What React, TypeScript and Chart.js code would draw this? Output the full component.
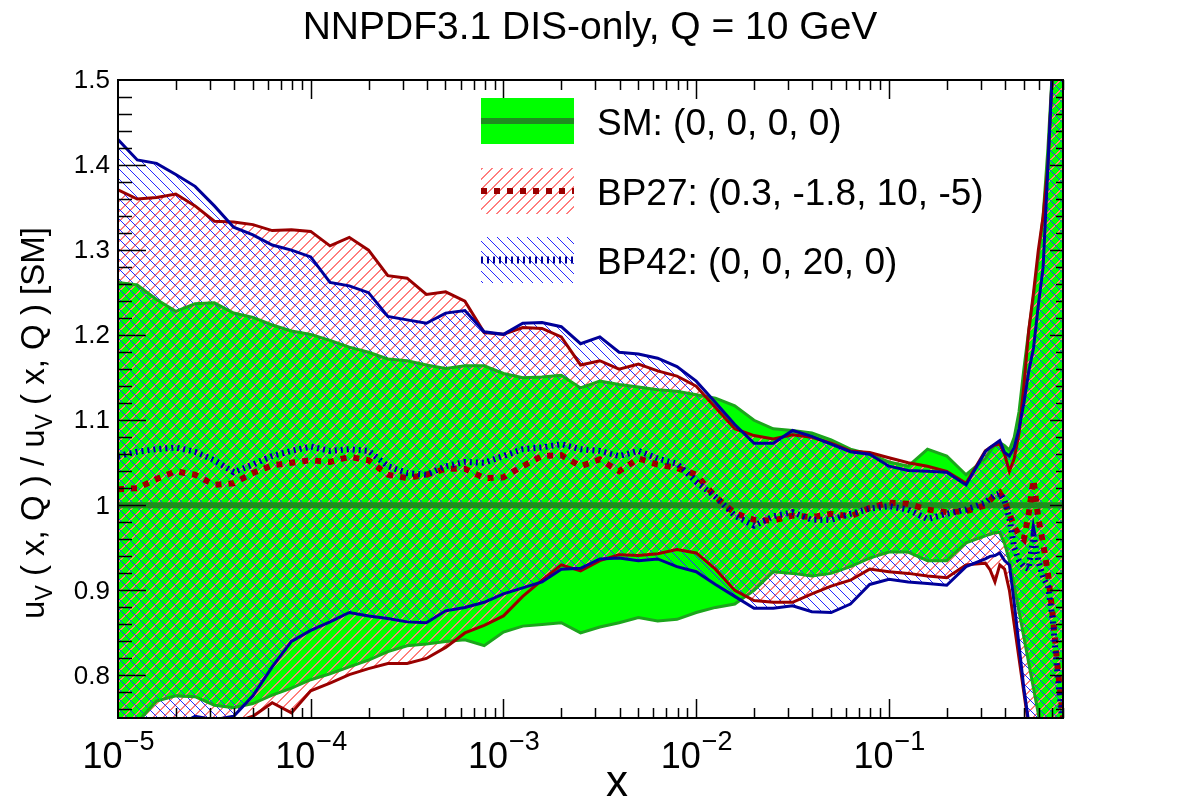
import React, { useEffect, useRef } from 'react';
import { Chart, registerables } from 'chart.js';

Chart.register(...registerables);

const FONT = '"Liberation Sans", Arial, Helvetica, sans-serif';

const chartTitle = 'NNPDF3.1 DIS-only, Q = 10 GeV';
const legendLabels = ['SM: (0, 0, 0, 0)', 'BP27: (0.3, -1.8, 10, -5)', 'BP42: (0, 0, 20, 0)'];

// sample positions in log10(x)
const logX = [
  -5.0, -4.9, -4.8, -4.7, -4.6, -4.5, -4.4, -4.3, -4.2, -4.1,
  -4.0, -3.9, -3.8, -3.7, -3.6, -3.5, -3.4, -3.3, -3.2, -3.1,
  -3.0, -2.9, -2.8, -2.7, -2.6, -2.5, -2.4, -2.3, -2.2, -2.1,
  -2.0, -1.9, -1.8, -1.7, -1.6, -1.5, -1.4, -1.3, -1.2, -1.1,
  -1.0, -0.9, -0.8, -0.7, -0.6, -0.5, -0.475, -0.45, -0.425, -0.4,
  -0.375, -0.35, -0.325, -0.3, -0.275, -0.25, -0.225, -0.2, -0.175, -0.15,
  -0.125, -0.097,
];

const smUpper = [
  1.262, 1.259, 1.242, 1.228, 1.237, 1.238, 1.226, 1.221, 1.212, 1.205,
  1.201, 1.194, 1.186, 1.180, 1.172, 1.170, 1.165, 1.161, 1.164, 1.164,
  1.155, 1.150, 1.151, 1.153, 1.138, 1.146, 1.142, 1.139, 1.136, 1.134,
  1.130, 1.126, 1.117, 1.100, 1.090, 1.088, 1.085, 1.077, 1.066, 1.060,
  1.051, 1.046, 1.066, 1.058, 1.036, 1.055, 1.064, 1.071, 1.074, 1.070,
  1.065, 1.080, 1.110, 1.160, 1.205, 1.245, 1.290, 1.340, 1.420, 1.520,
  1.620, 1.700,
];
const smLower = [
  0.740, 0.745, 0.770, 0.776, 0.775, 0.765, 0.762, 0.767, 0.777, 0.785,
  0.795, 0.802, 0.810, 0.818, 0.828, 0.835, 0.837, 0.840, 0.842, 0.835,
  0.851, 0.858, 0.860, 0.862, 0.850, 0.857, 0.862, 0.868, 0.864, 0.866,
  0.874, 0.880, 0.884, 0.900, 0.922, 0.920, 0.917, 0.920, 0.928, 0.938,
  0.945, 0.945, 0.935, 0.935, 0.956, 0.964, 0.966, 0.968, 0.968, 0.955,
  0.935, 0.905, 0.875, 0.845, 0.815, 0.785, 0.755, 0.720, 0.700, 0.680,
  0.660, 0.640,
];
const smCentralX = [1e-5, 0.8];
const smCentralY = [1.0, 1.0];

const bp27Upper = [
  1.371, 1.360, 1.362, 1.366, 1.352, 1.334, 1.333, 1.330, 1.323, 1.324,
  1.322, 1.305, 1.315, 1.300, 1.270, 1.267, 1.248, 1.251, 1.240, 1.203,
  1.201, 1.209, 1.208, 1.198, 1.165, 1.170, 1.160, 1.166, 1.158, 1.152,
  1.140, 1.115, 1.090, 1.082, 1.078, 1.083, 1.080, 1.073, 1.064, 1.062,
  1.056, 1.050, 1.046, 1.040, 1.026, 1.064, 1.068, 1.071, 1.072, 1.060,
  1.040, 1.055, 1.085, 1.140, 1.205, 1.250, 1.300, 1.340, 1.400, 1.520,
  1.620, 1.700,
];
const bp27Lower = [
  0.700, 0.700, 0.710, 0.720, 0.730, 0.740, 0.745, 0.752, 0.768, 0.756,
  0.782, 0.791, 0.801, 0.808, 0.814, 0.814, 0.820, 0.833, 0.850, 0.859,
  0.870, 0.893, 0.912, 0.930, 0.923, 0.935, 0.942, 0.941, 0.943, 0.948,
  0.944, 0.925, 0.900, 0.888, 0.886, 0.886, 0.896, 0.905, 0.912, 0.925,
  0.922, 0.920, 0.917, 0.915, 0.930, 0.932, 0.924, 0.910, 0.930, 0.925,
  0.900, 0.860, 0.820, 0.780, 0.740, 0.700, 0.680, 0.660, 0.640, 0.620,
  0.600, 0.580,
];
const bp27Central = [
  1.019, 1.020, 1.031, 1.040, 1.036, 1.024, 1.026, 1.038, 1.047, 1.050,
  1.053, 1.051, 1.057, 1.053, 1.036, 1.032, 1.036, 1.043, 1.043, 1.032,
  1.033, 1.046, 1.058, 1.059, 1.046, 1.054, 1.040, 1.055, 1.048, 1.044,
  1.036, 1.010, 0.991, 0.983, 0.982, 0.988, 0.986, 0.990, 0.987, 0.997,
  1.003, 1.002, 0.995, 0.992, 0.993, 1.000, 1.006, 1.012, 1.015, 1.005,
  0.990, 0.975, 0.965, 0.960, 0.990, 1.030, 0.985, 0.955, 0.920, 0.870,
  0.810, 0.750,
];

const bp42Upper = [
  1.430, 1.406, 1.402, 1.389, 1.375, 1.352, 1.327, 1.318, 1.306, 1.300,
  1.292, 1.262, 1.258, 1.250, 1.222, 1.218, 1.214, 1.226, 1.229, 1.204,
  1.201, 1.214, 1.215, 1.210, 1.190, 1.198, 1.180, 1.178, 1.173, 1.163,
  1.146, 1.121, 1.095, 1.073, 1.073, 1.088, 1.081, 1.072, 1.063, 1.060,
  1.046, 1.041, 1.040, 1.039, 1.024, 1.063, 1.068, 1.072, 1.076, 1.062,
  1.058, 1.068, 1.090, 1.120, 1.157, 1.185, 1.235, 1.280, 1.400, 1.520,
  1.620, 1.700,
];
const bp42Lower = [
  0.720, 0.720, 0.730, 0.740, 0.752, 0.748, 0.752, 0.776, 0.810, 0.840,
  0.853, 0.863, 0.874, 0.870, 0.867, 0.863, 0.862, 0.876, 0.880, 0.886,
  0.896, 0.903, 0.910, 0.925, 0.926, 0.937, 0.938, 0.935, 0.937, 0.928,
  0.922, 0.907, 0.893, 0.879, 0.879, 0.882, 0.875, 0.874, 0.884, 0.907,
  0.913, 0.910, 0.908, 0.906, 0.928, 0.937, 0.940, 0.941, 0.944, 0.935,
  0.930, 0.885, 0.835, 0.785, 0.745, 0.710, 0.680, 0.660, 0.640, 0.620,
  0.600, 0.580,
];
const bp42Central = [
  1.058, 1.063, 1.066, 1.068, 1.063, 1.053, 1.039, 1.048, 1.058, 1.064,
  1.069, 1.064, 1.066, 1.064, 1.046, 1.038, 1.036, 1.046, 1.051, 1.050,
  1.058, 1.066, 1.068, 1.072, 1.066, 1.064, 1.058, 1.064, 1.055, 1.049,
  1.028, 1.010, 0.988, 0.976, 0.987, 0.992, 0.983, 0.983, 0.990, 0.996,
  0.999, 0.995, 0.984, 0.990, 0.995, 1.003, 1.008, 1.012, 1.014, 1.005,
  0.985, 0.950, 0.935, 0.928, 0.925, 0.965, 0.935, 0.915, 0.905, 0.865,
  0.800, 0.740,
];

const xMin = 1e-5;
const xMax = 0.8;
const yMin = 0.75;
const yMax = 1.5;
const xMajorTicks = [1e-5, 1e-4, 1e-3, 1e-2, 1e-1];
const xMajorExponents = ['\u22125', '\u22124', '\u22123', '\u22122', '\u22121'];
const xMinorMantissas = [2, 3, 4, 5, 6, 7, 8, 9];
const yMajorTicks = [0.8, 0.9, 1.0, 1.1, 1.2, 1.3, 1.4, 1.5];
const yMajorLabels = ['0.8', '0.9', '1', '1.1', '1.2', '1.3', '1.4', '1.5'];

const SM_FILL = '#00ff00';
const SM_EDGE = '#1ca51c';
const SM_LINE = '#1f8c1f';
const RED_LINE = '#990000';
const BLUE_LINE = '#000099';
const RED_HATCH = 'rgb(255,125,125)';
const BLUE_HATCH = 'rgb(40,40,255)';

// thick: number of stacked pixels per column (2 gives a ~1.5px diagonal)
function makeHatch(dir: string, color: string, thick: number): CanvasPattern | string {
  const c = document.createElement('canvas');
  c.width = 10;
  c.height = 10;
  const g = c.getContext('2d');
  if (!g) return color;
  g.clearRect(0, 0, 10, 10);
  g.fillStyle = color;
  for (let i = 0; i < 10; i++) {
    for (let t = 0; t < thick; t++) {
      const yy = dir === '/' ? (9 - i + t) % 10 : (i + t) % 10;
      g.fillRect(i, yy, 1, 1);
    }
  }
  return g.createPattern(c, 'repeat') || color;
}

export default function App() {
  const ref = useRef<HTMLCanvasElement>(null);

  useEffect(() => {
    const canvas = ref.current;
    if (!canvas) return;
    const redHatch = makeHatch('/', RED_HATCH, 2);
    const blueHatch = makeHatch('\\', BLUE_HATCH, 1);
    const pts = (arr: number[]) => logX.map((lx, i) => ({ x: Math.pow(10, lx), y: arr[i] }));

    const decor = {
      id: 'decor',
      afterDraw(chart: any) {
        const ctx = chart.ctx as CanvasRenderingContext2D;
        const { left, right, top, bottom } = chart.chartArea;
        const xs = chart.scales.x;
        const ys = chart.scales.y;
        ctx.save();

        // ticks
        ctx.strokeStyle = '#000';
        ctx.lineWidth = 1.5;
        ctx.beginPath();
        for (let d = 0; d < xMajorTicks.length; d++) {
          const px = Math.round(xs.getPixelForValue(xMajorTicks[d])) + 0.5;
          if (d > 0) {
            ctx.moveTo(px, bottom); ctx.lineTo(px, bottom - 19);
            ctx.moveTo(px, top); ctx.lineTo(px, top + 19);
          }
          for (const m of xMinorMantissas) {
            const v = m * xMajorTicks[d];
            if (v > xMax) continue;
            const p = Math.round(xs.getPixelForValue(v)) + 0.5;
            ctx.moveTo(p, bottom); ctx.lineTo(p, bottom - 10);
            ctx.moveTo(p, top); ctx.lineTo(p, top + 10);
          }
        }
        for (let k = 0; k <= 37; k++) {
          const v = yMin + 0.01 + k * 0.02;
          if (v >= yMax - 1e-9) break;
          const p = Math.round(ys.getPixelForValue(v)) + 0.5;
          const isMajor = Math.abs(Math.round(v * 10) - v * 10) < 1e-6;
          const lenL = isMajor ? 28 : 14;
          const lenR = isMajor ? 13 : 7;
          ctx.moveTo(left, p); ctx.lineTo(left + lenL, p);
          ctx.moveTo(right, p); ctx.lineTo(right - lenR, p);
        }
        ctx.stroke();

        // frame
        ctx.lineWidth = 2;
        ctx.strokeRect(left, top, right - left, bottom - top);

        // y tick labels
        ctx.fillStyle = '#000';
        ctx.font = `26px ${FONT}`;
        ctx.textAlign = 'right';
        ctx.textBaseline = 'middle';
        yMajorTicks.forEach((v, i) => {
          const p = ys.getPixelForValue(v);
          ctx.fillText(yMajorLabels[i], left - 8, p + 1);
        });

        // x tick labels 10^n
        ctx.textBaseline = 'alphabetic';
        ctx.textAlign = 'left';
        xMajorTicks.forEach((v, i) => {
          const p = xs.getPixelForValue(v);
          ctx.font = `36px ${FONT}`;
          const w1 = ctx.measureText('10').width;
          ctx.font = `27px ${FONT}`;
          const w2 = ctx.measureText(xMajorExponents[i]).width;
          const x0 = p - (w1 + w2) / 2;
          ctx.font = `36px ${FONT}`;
          ctx.fillText('10', x0, 768);
          ctx.font = `27px ${FONT}`;
          ctx.fillText(xMajorExponents[i], x0 + w1 + 1, 750);
        });

        // x axis title
        ctx.font = `44px ${FONT}`;
        ctx.textAlign = 'center';
        ctx.fillText('x', 617, 796);

        // title
        ctx.font = `39px ${FONT}`;
        ctx.textAlign = 'center';
        ctx.fillText(chartTitle, 590, 39);

        // y axis title with subscripts
        const segs = [
          { t: 'u', s: false }, { t: 'V', s: true }, { t: ' ( x, Q ) / u', s: false },
          { t: 'V', s: true }, { t: ' ( x, Q ) [SM]', s: false },
        ];
        const fMain = `33px ${FONT}`;
        const fSub = `23px ${FONT}`;
        let total = 0;
        const widths = segs.map((sg) => {
          ctx.font = sg.s ? fSub : fMain;
          const w = ctx.measureText(sg.t).width;
          total += w;
          return w;
        });
        ctx.save();
        ctx.translate(44, 423);
        ctx.rotate(-Math.PI / 2);
        ctx.textAlign = 'left';
        let cx = -total / 2;
        segs.forEach((sg, i) => {
          ctx.font = sg.s ? fSub : fMain;
          ctx.fillText(sg.t, cx, sg.s ? 8 : 0);
          cx += widths[i];
        });
        ctx.restore();

        // legend
        const bx0 = 481;
        const bx1 = 574;
        const rows = [121, 191, 260];
        const hh = 23;
        // SM
        ctx.fillStyle = SM_FILL;
        ctx.fillRect(bx0, rows[0] - hh, bx1 - bx0, 2 * hh);
        ctx.strokeStyle = SM_LINE;
        ctx.lineWidth = 6;
        ctx.beginPath(); ctx.moveTo(bx0, rows[0]); ctx.lineTo(bx1, rows[0]); ctx.stroke();
        // BP27
        ctx.fillStyle = redHatch as any;
        ctx.fillRect(bx0, rows[1] - hh, bx1 - bx0, 2 * hh);
        ctx.strokeStyle = RED_LINE;
        ctx.lineWidth = 6;
        ctx.setLineDash([6, 7]);
        ctx.beginPath(); ctx.moveTo(bx0, rows[1]); ctx.lineTo(bx1, rows[1]); ctx.stroke();
        // BP42
        ctx.fillStyle = blueHatch as any;
        ctx.fillRect(bx0, rows[2] - hh, bx1 - bx0, 2 * hh);
        ctx.strokeStyle = BLUE_LINE;
        ctx.lineWidth = 7;
        ctx.setLineDash([2, 4]);
        ctx.beginPath(); ctx.moveTo(bx0, rows[2]); ctx.lineTo(bx1, rows[2]); ctx.stroke();
        ctx.setLineDash([]);

        ctx.fillStyle = '#000';
        ctx.font = `37px ${FONT}`;
        ctx.textAlign = 'left';
        ctx.textBaseline = 'alphabetic';
        legendLabels.forEach((lab, i) => {
          ctx.fillText(lab, 597, rows[i] + 14);
        });

        ctx.restore();
      },
    };

    const base = { pointRadius: 0, pointHoverRadius: 0, tension: 0, spanGaps: true };

    const chart = new Chart(canvas, {
      type: 'line',
      data: {
        datasets: [
          { ...base, label: 'BP42 central', data: pts(bp42Central), borderColor: BLUE_LINE, borderWidth: 6, borderDash: [2, 4], fill: false, order: 0 },
          { ...base, label: 'BP27 central', data: pts(bp27Central), borderColor: RED_LINE, borderWidth: 6, borderDash: [6, 7], fill: false, order: 1 },
          { ...base, label: 'SM central', data: smCentralX.map((x, i) => ({ x, y: smCentralY[i] })), borderColor: SM_LINE, borderWidth: 6, fill: false, order: 2 },
          { ...base, label: 'BP42 upper', data: pts(bp42Upper), borderColor: BLUE_LINE, borderWidth: 3, backgroundColor: blueHatch as any, fill: 4, order: 3 },
          { ...base, label: 'BP42 lower', data: pts(bp42Lower), borderColor: BLUE_LINE, borderWidth: 3, fill: false, order: 3 },
          { ...base, label: 'BP27 upper', data: pts(bp27Upper), borderColor: RED_LINE, borderWidth: 3, backgroundColor: redHatch as any, fill: 6, order: 5 },
          { ...base, label: 'BP27 lower', data: pts(bp27Lower), borderColor: RED_LINE, borderWidth: 3, fill: false, order: 5 },
          { ...base, label: 'SM upper', data: pts(smUpper), borderColor: SM_EDGE, borderWidth: 3, backgroundColor: SM_FILL, fill: 8, order: 7 },
          { ...base, label: 'SM lower', data: pts(smLower), borderColor: SM_EDGE, borderWidth: 3, fill: false, order: 7 },
        ] as any,
      },
      options: {
        animation: false,
        responsive: false,
        devicePixelRatio: 1,
        layout: { padding: { left: 118, right: 119, top: 80, bottom: 82 } },
        scales: {
          x: { type: 'logarithmic', min: xMin, max: xMax, display: false },
          y: { type: 'linear', min: yMin, max: yMax, display: false },
        },
        plugins: {
          legend: { display: false },
          title: { display: false },
          tooltip: { enabled: false },
          filler: { drawTime: 'beforeDatasetsDraw', propagate: false },
        } as any,
        events: [],
      } as any,
      plugins: [decor],
    });
    return () => chart.destroy();
  }, []);

  return (
    <div style={{ position: 'absolute', left: 0, top: 0, width: 1182, height: 800, background: '#fff' }}>
      <canvas ref={ref} width={1182} height={800} style={{ display: 'block' }} />
    </div>
  );
}
